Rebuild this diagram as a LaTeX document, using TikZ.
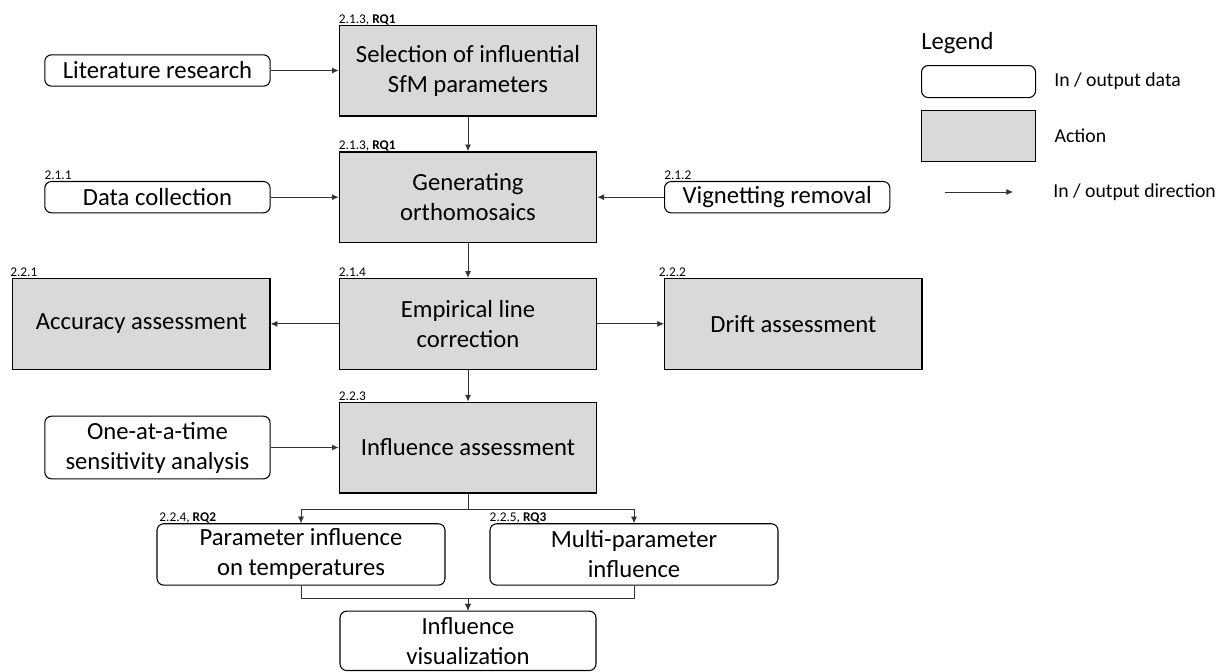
\documentclass[tikz,border=0pt]{standalone}
\usepackage{fontspec}
\setmainfont{Carlito}
\usepackage{xcolor}
\usepackage{tikz}
\usetikzlibrary{arrows.meta,positioning}
\definecolor{actgray}{HTML}{D9D9D9}
\newcommand{\mainfs}{\fontsize{18.5}{22.5}\selectfont}
\newcommand{\lblfs}{\fontsize{10}{11}\selectfont}
\newcommand{\legfs}{\fontsize{14.8}{17}\selectfont}
\tikzset{
  actbox/.style={draw=black, line width=1pt, fill=actgray, align=center, font=\mainfs, inner sep=2pt, minimum width=193pt, minimum height=68pt},
  databox/.style={draw=black, line width=0.8pt, rounded corners=5pt, fill=white, align=center, font=\mainfs, inner sep=1pt, minimum width=169pt, minimum height=23.5pt},
  lbl/.style={anchor=base west, inner sep=0pt, yshift=1pt, font=\lblfs},
  legtxt/.style={anchor=west, inner sep=0pt, font=\legfs},
  farr/.style={-{Latex[length=5pt,width=4.5pt]}, line width=0.6pt, draw=black!80}
}

\begin{document}
\begin{tikzpicture}[x=0.75pt, y=-0.75pt]
\useasboundingbox (0,0) rectangle (1223,671);
% main column
\node[actbox, label={[lbl]north west:{2.1.3, \textbf{RQ1}}}] (sel) at (468,70.5) {Selection of influential\\SfM parameters};
\node[actbox, below=26pt of sel, label={[lbl]north west:{2.1.3, \textbf{RQ1}}}] (gen) {Generating\\orthomosaics};
\node[actbox, below=26pt of gen, label={[lbl]north west:2.1.4}] (emp) {Empirical line\\correction};
\node[actbox, below=23.75pt of emp, label={[lbl]north west:2.2.3}] (infl) {Influence assessment};
% side nodes
\node[databox, left=51pt of sel] (lit) {Literature research};
\node[databox, left=51pt of gen, label={[lbl]north west:2.1.1}] (data) {Data collection};
\node[databox, right=50pt of gen, label={[lbl]north west:2.1.2}] (vign) {Vignetting removal};
\node[actbox, left=51pt of emp, label={[lbl,xshift=-1.5pt]north west:2.2.1}] (acc) {Accuracy assessment};
\node[actbox, right=50pt of emp, label={[lbl,xshift=-4pt]north west:2.2.2}] (drift) {Drift assessment};
\node[databox, minimum height=47pt, left=51pt of infl] (oat) {One-at-a-time\\sensitivity analysis};
% results
\node[databox, minimum width=216pt, minimum height=46pt, below=22.3pt of infl, xshift=-125.25pt, label={[lbl,xshift=2pt]north west:{2.2.4, \textbf{RQ2}}}] (param) {Parameter influence\\on temperatures};
\node[databox, minimum width=216pt, minimum height=46pt, below=22.3pt of infl, xshift=124.5pt, label={[lbl]north west:{2.2.5, \textbf{RQ3}}}] (multi) {Multi-parameter\\influence};
\node[databox, minimum width=192pt, minimum height=44.5pt, inner sep=0pt, below=18.75pt of param, xshift=125.25pt] (vis) {Influence\\visualization};
% connectors
\draw[farr] (lit.east) -- (lit.east -| sel.west);
\draw[farr] (sel) -- (gen);
\draw[farr] (data) -- (gen);
\draw[farr] (vign) -- (gen);
\draw[farr] (gen) -- (emp);
\draw[farr] (emp) -- (acc);
\draw[farr] (emp) -- (drift);
\draw[farr] (emp) -- (infl);
\draw[farr] (oat) -- (infl);
\draw[farr] (infl.south) -- ++(0,-12pt) -| (param.north);
\draw[farr] (infl.south) -- ++(0,-12pt) -| (multi.north);
\draw[farr] (param.south) -- ++(0,-9.75pt) -| (vis.north);
\draw[farr] (multi.south) -- ++(0,-9.75pt) -| (vis.north);
% legend
\node[font=\mainfs, anchor=west, inner sep=0pt] (legtitle) at (921,43) {Legend};
\node[databox, minimum width=85.5pt, minimum height=24pt, anchor=north west] (legdata) at (921,65) {};
\node[actbox, minimum width=85.5pt, minimum height=38.25pt, anchor=north west] (legact) at (921,110) {};
\node[legtxt, right=13.5pt of legdata] (legdatatxt) {In / output data};
\node[legtxt, right=13.5pt of legact] (legacttxt) {Action};
\coordinate (legA) at (945,192);
\coordinate (legB) at (1013,192);
\draw[farr] (legA) -- (legB);
\node[legtxt] (legarrtxt) at (1053,192) {In / output direction};
\end{tikzpicture}
\end{document}
